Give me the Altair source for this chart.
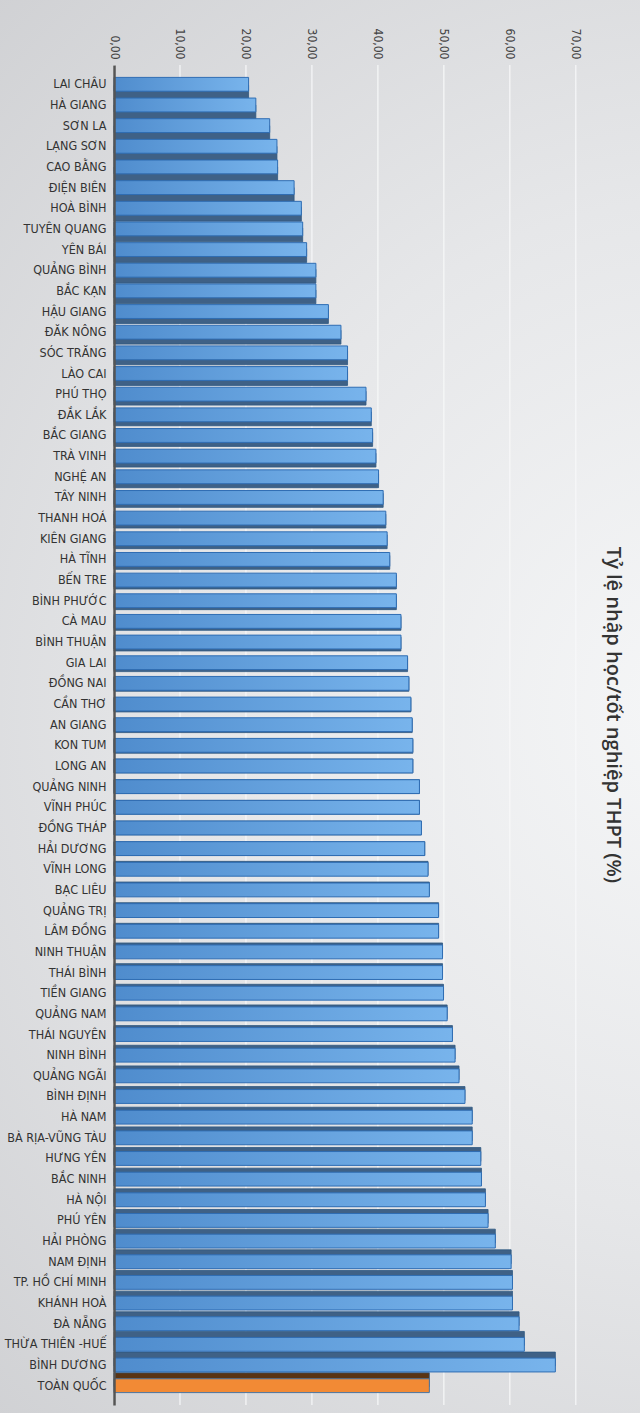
import altair as alt
import pandas as pd

names = ["LAI CHÂU", "HÀ GIANG", "SƠN LA", "LẠNG SƠN", "CAO BẰNG", "ĐIỆN BIÊN",
         "HOÀ BÌNH", "TUYÊN QUANG", "YÊN BÁI", "QUẢNG BÌNH", "BẮC KẠN", "HẬU GIANG",
         "ĐĂK NÔNG", "SÓC TRĂNG", "LÀO CAI", "PHÚ THỌ", "ĐẮK LẮK", "BẮC GIANG",
         "TRÀ VINH", "NGHỆ AN", "TÂY NINH", "THANH HOÁ", "KIÊN GIANG", "HÀ TĨNH",
         "BẾN TRE", "BÌNH PHƯỚC", "CÀ MAU", "BÌNH THUẬN", "GIA LAI", "ĐỒNG NAI",
         "CẦN THƠ", "AN GIANG", "KON TUM", "LONG AN", "QUẢNG NINH", "VĨNH PHÚC",
         "ĐỒNG THÁP", "HẢI DƯƠNG", "VĨNH LONG", "BẠC LIÊU", "QUẢNG TRỊ", "LÂM ĐỒNG",
         "NINH THUẬN", "THÁI BÌNH", "TIỀN GIANG", "QUẢNG NAM", "THÁI NGUYÊN", "NINH BÌNH",
         "QUẢNG NGÃI", "BÌNH ĐỊNH", "HÀ NAM", "BÀ RỊA-VŨNG TÀU", "HƯNG YÊN", "BẮC NINH",
         "HÀ NỘI", "PHÚ YÊN", "HẢI PHÒNG", "NAM ĐỊNH", "TP. HỒ CHÍ MINH", "KHÁNH HOÀ",
         "ĐÀ NẴNG", "THỪA THIÊN -HUẾ", "BÌNH DƯƠNG", "TOÀN QUỐC"]

values = [20.4, 21.5, 23.6, 24.7, 24.8, 27.3,
          28.4, 28.6, 29.2, 30.6, 30.6, 32.5,
          34.4, 35.4, 35.4, 38.2, 39.0, 39.2,
          39.7, 40.1, 40.8, 41.2, 41.4, 41.8,
          42.8, 42.8, 43.5, 43.5, 44.5, 44.7,
          45.0, 45.2, 45.3, 45.3, 46.3, 46.3,
          46.6, 47.1, 47.6, 47.8, 49.2, 49.2,
          49.8, 49.8, 49.95, 50.5, 51.3, 51.7,
          52.3, 53.2, 54.3, 54.3, 55.6, 55.7,
          56.3, 56.7, 57.8, 60.2, 60.4, 60.4,
          61.4, 62.2, 66.9, 47.8]

tick_values = [0, 10, 20, 30, 40, 50, 60, 70]
national = "TOÀN QUỐC"
title_text = "Tỷ lệ nhập học/tốt nghiệp THPT (%)"

W, H = 475, 1340
LEFT, TOP = 114, 65
CANVAS_W, CANVAS_H = 640, 1413

df = pd.DataFrame({"name": names, "value": values})

label_font = "Liberation Sans Narrow, DejaVu Sans Condensed, Roboto, sans-serif"

x_enc = alt.X("value:Q",
              scale=alt.Scale(domain=[0, 72], nice=False, zero=True),
              axis=alt.Axis(orient="top", values=tick_values, grid=False, domain=False,
                            ticks=False, labelAngle=90, labelPadding=6,
                            labelExpr="replace(format(datum.value, '.2f'), '.', ',')",
                            labelFont=label_font, labelFontSize=12, labelColor="#444444",
                            title=None, zindex=1))
y_enc = alt.Y("name:N", sort=names,
              scale=alt.Scale(paddingInner=0.33, paddingOuter=0.6),
              axis=alt.Axis(domain=True, domainColor="#555555", domainWidth=2.5,
                            ticks=False, labelPadding=8, labelFont=label_font,
                            labelFontSize=12.5, labelColor="#333333", title=None,
                            zindex=1))

base = alt.Chart(df).transform_window(
    row="row_number()"
).transform_calculate(
    off="round((35 - (datum.row - 1)) * 0.22)",
    kind=f"datum.name == '{national}' ? 'nat' : 'prov'"
)

bg_grad = alt.RadialGradient(
    gradient="radial", x1=0.78, y1=0.5, r1=0, x2=0.78, y2=0.5, r2=0.8,
    stops=[alt.GradientStop(color="#f6f7f8", offset=0),
           alt.GradientStop(color="#e6e7e9", offset=0.45),
           alt.GradientStop(color="#cbcccf", offset=1)])

bg = alt.Chart(alt.Data(values=[{}])).mark_rect(fill=bg_grad).encode(
    x=alt.value(-LEFT), x2=alt.value(CANVAS_W - LEFT),
    y=alt.value(-TOP), y2=alt.value(CANVAS_H - TOP))

grid = alt.Chart(pd.DataFrame({"value": tick_values})).mark_rule(
    color="#f7f8f9", strokeWidth=1.2).encode(x=alt.X("value:Q"))

darks = []
for k in range(-8, 10):
    darks.append(
        base.transform_filter(f"datum.off == {k}").mark_bar(
            yOffset=k, stroke="#2d5882", strokeWidth=0.8
        ).encode(
            x=x_enc, y=y_enc,
            color=alt.Color("kind:N", scale=alt.Scale(domain=["prov", "nat"],
                                                      range=["#3f6186", "#5a3413"]),
                            legend=None)))

blue_grad = alt.LinearGradient(
    gradient="linear", x1=0, x2=1, y1=0, y2=0,
    stops=[alt.GradientStop(color="#4f8ccd", offset=0),
           alt.GradientStop(color="#78b4ec", offset=1)])

face_prov = base.transform_filter("datum.kind == 'prov'").mark_bar(
    fill=blue_grad, stroke="#2f6db3", strokeWidth=1
).encode(x=x_enc, y=y_enc)

face_nat = base.transform_filter("datum.kind == 'nat'").mark_bar(
    fill="#f28a35", stroke="#4a74a0", strokeWidth=1
).encode(x=x_enc, y=y_enc)

title = alt.Chart(alt.Data(values=[{}])).mark_text(
    text=title_text, angle=90, font="Open Sans", fontSize=20, fontWeight=600,
    color="#333333", align="center", baseline="middle"
).encode(x=alt.value(W + 24), y=alt.value(650))

chart = alt.layer(bg, grid, *darks, face_prov, face_nat, title).properties(
    width=W, height=H,
    padding={"left": LEFT, "top": TOP, "right": CANVAS_W - LEFT - W,
             "bottom": CANVAS_H - TOP - H},
    autosize=alt.AutoSizeParams(type="none")
).configure_view(stroke=None).configure(background="#d3d4d6")

chart.save("out.html", embed_options={"renderer": "svg", "actions": False})
